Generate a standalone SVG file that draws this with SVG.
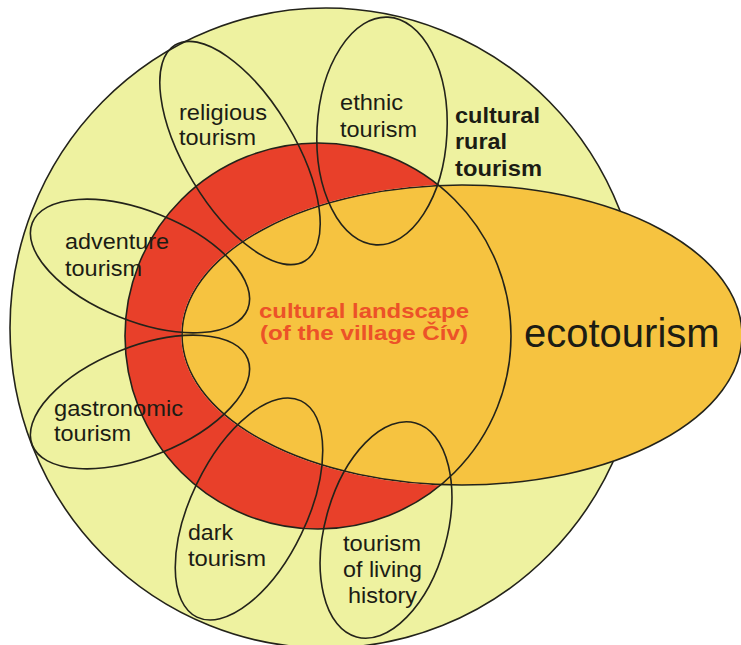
<svg xmlns="http://www.w3.org/2000/svg" width="741" height="645" viewBox="0 0 741 645">
<style>
.ln{fill:none;stroke:#23231a;stroke-width:1.6}
.lbl{font-family:"Liberation Sans",Arial,sans-serif;font-size:22px;fill:#1c1c14}
.bold{font-weight:bold}
.ctr{font-family:"Liberation Sans",Arial,sans-serif;font-size:21px;font-weight:bold;fill:#ec5228}
</style>
<defs>
<mask id="outsideEco" maskUnits="userSpaceOnUse" x="0" y="0" width="741" height="645">
<rect x="0" y="0" width="741" height="645" fill="#fff"/>
<ellipse cx="462" cy="335" rx="280" ry="150" fill="#000" stroke="#000" stroke-width="1.6"/>
</mask>
</defs>
<rect width="741" height="645" fill="#ffffff"/>
<g id="cultural-rural-tourism">
<ellipse cx="326" cy="328" rx="316" ry="320" fill="#eef2a0" class="ln" style="fill:#eef2a0"/>
<text class="lbl bold" x="455" y="123" textLength="85" lengthAdjust="spacingAndGlyphs">cultural</text>
<text class="lbl bold" x="455" y="149" textLength="52" lengthAdjust="spacingAndGlyphs">rural</text>
<text class="lbl bold" x="455" y="176" textLength="87" lengthAdjust="spacingAndGlyphs">tourism</text>
</g>
<g id="ecotourism">
<ellipse cx="462" cy="335" rx="280" ry="150" class="ln" style="fill:#f6c340"/>
<text x="524" y="347" style="font-family:'Liberation Sans',Arial,sans-serif;font-size:40px;fill:#1c1c14">ecotourism</text>
</g>
<g id="cultural-landscape">
<circle cx="318" cy="336" r="193" fill="#e8402a" mask="url(#outsideEco)"/>
<circle cx="318" cy="336" r="193" class="ln"/>
<text class="ctr" x="259" y="318" textLength="210" lengthAdjust="spacingAndGlyphs">cultural landscape</text>
<text class="ctr" x="260" y="340" textLength="208" lengthAdjust="spacingAndGlyphs">(of the village Čív)</text>
</g>
<g id="religious-tourism">
<ellipse class="ln" cx="240" cy="153" rx="55" ry="126" transform="rotate(-31 240 153)"/>
<text class="lbl" x="179" y="120" textLength="88" lengthAdjust="spacingAndGlyphs">religious</text>
<text class="lbl" x="179" y="145" textLength="77" lengthAdjust="spacingAndGlyphs">tourism</text>
</g>
<g id="ethnic-tourism">
<ellipse class="ln" cx="382" cy="131" rx="65" ry="114" transform="rotate(3 382 131)"/>
<text class="lbl" x="340" y="110" textLength="63" lengthAdjust="spacingAndGlyphs">ethnic</text>
<text class="lbl" x="340" y="137" textLength="77" lengthAdjust="spacingAndGlyphs">tourism</text>
</g>
<g id="adventure-tourism">
<ellipse class="ln" cx="140" cy="266" rx="116" ry="55" transform="rotate(21.8 140 266)"/>
<text class="lbl" x="65" y="249" textLength="104" lengthAdjust="spacingAndGlyphs">adventure</text>
<text class="lbl" x="65" y="276" textLength="77" lengthAdjust="spacingAndGlyphs">tourism</text>
</g>
<g id="gastronomic-tourism">
<ellipse class="ln" cx="140" cy="402" rx="116" ry="55" transform="rotate(-21.8 140 402)"/>
<text class="lbl" x="54" y="416" textLength="129" lengthAdjust="spacingAndGlyphs">gastronomic</text>
<text class="lbl" x="54" y="441" textLength="77" lengthAdjust="spacingAndGlyphs">tourism</text>
</g>
<g id="dark-tourism">
<ellipse class="ln" cx="249" cy="509" rx="58" ry="120" transform="rotate(25.7 249 509)"/>
<text class="lbl" x="188" y="540" textLength="45" lengthAdjust="spacingAndGlyphs">dark</text>
<text class="lbl" x="188" y="566" textLength="78" lengthAdjust="spacingAndGlyphs">tourism</text>
</g>
<g id="tourism-of-living-history">
<ellipse class="ln" cx="386" cy="530" rx="61" ry="111" transform="rotate(15.4 386 530)"/>
<text class="lbl" x="343" y="551" textLength="78" lengthAdjust="spacingAndGlyphs">tourism</text>
<text class="lbl" x="343" y="577" textLength="79" lengthAdjust="spacingAndGlyphs">of living</text>
<text class="lbl" x="348" y="603" textLength="69" lengthAdjust="spacingAndGlyphs">history</text>
</g>
<g id="connectors"/>
</svg>
